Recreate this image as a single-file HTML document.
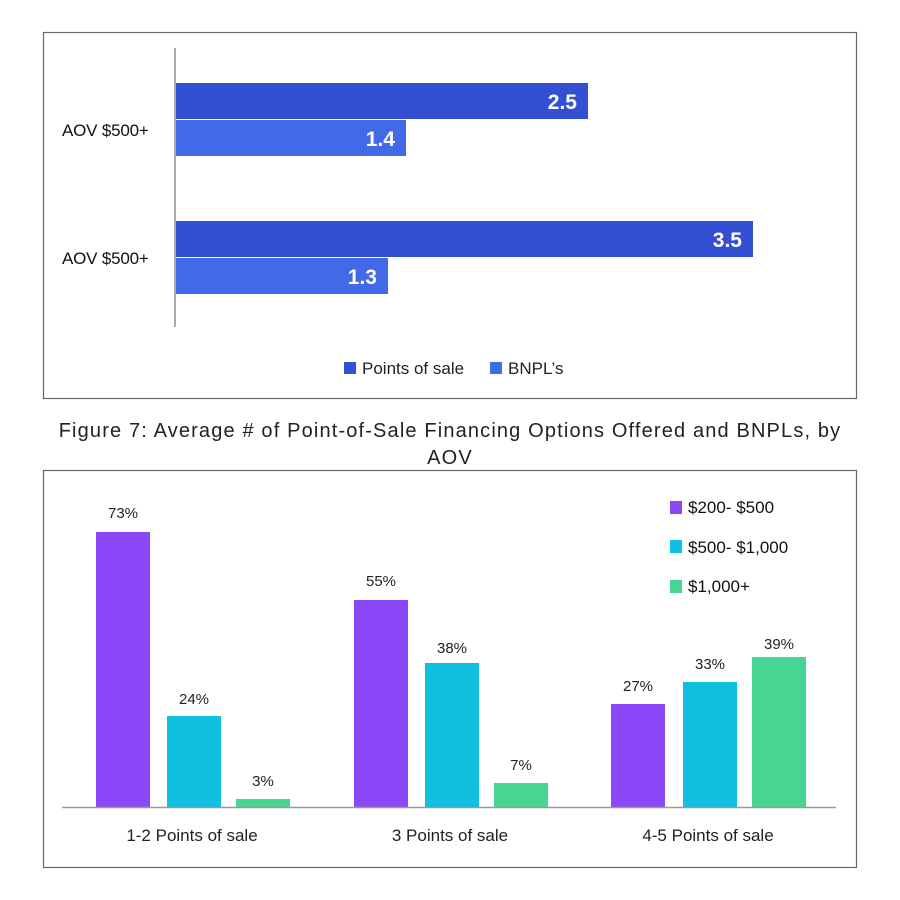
<!DOCTYPE html>
<html><head><style>body{margin:0;background:#fff}svg{display:block}text{font-family:"Liberation Sans",sans-serif}</style></head><body>
<svg width="900" height="900" viewBox="0 0 900 900">
<rect width="900" height="900" fill="#fff"/>
<rect x="43.5" y="32.5" width="813" height="366" fill="none" stroke="#666" stroke-width="1.2"/>
<line x1="175" y1="48" x2="175" y2="327" stroke="#aaa" stroke-width="2"/>
<rect x="176" y="83" width="412" height="36" fill="#3350d4"/>
<rect x="176" y="120" width="230" height="36" fill="#426ae8"/>
<rect x="176" y="221" width="577" height="36" fill="#3350d4"/>
<rect x="176" y="258" width="212" height="36" fill="#426ae8"/>
<g fill="#fff" font-weight="bold" font-size="21" text-anchor="end">
<text x="577" y="109">2.5</text><text x="395" y="146">1.4</text>
<text x="742" y="247">3.5</text><text x="377" y="284">1.3</text></g>
<g font-size="17" fill="#111" letter-spacing="-0.2"><text x="62" y="136">AOV $500+</text><text x="62" y="264">AOV $500+</text></g>
<rect x="344" y="362" width="12" height="12" fill="#3350d4"/><text x="362" y="374" font-size="17" fill="#222">Points of sale</text>
<rect x="490" y="362" width="12" height="12" fill="#426ae8"/><text x="508" y="374" font-size="17" fill="#222">BNPL’s</text>
<g font-size="20" fill="#222" text-anchor="middle" letter-spacing="1.15"><text x="450" y="437">Figure 7: Average # of Point-of-Sale Financing Options Offered  and  BNPLs, by</text><text x="450" y="464">AOV</text></g>
<rect x="43.5" y="470.5" width="813" height="397" fill="none" stroke="#666" stroke-width="1.2"/>
<g fill="#8a48f8"><rect x="96" y="532" width="54" height="275"/><rect x="354" y="600" width="54" height="207"/><rect x="611" y="704" width="54" height="103"/></g>
<g fill="#0fc0e0"><rect x="167" y="716" width="54" height="91"/><rect x="425" y="663" width="54" height="144"/><rect x="683" y="682" width="54" height="125"/></g>
<g fill="#48d493"><rect x="236" y="799" width="54" height="8"/><rect x="494" y="783" width="54" height="24"/><rect x="752" y="657" width="54" height="150"/></g>
<line x1="62" y1="807.5" x2="836" y2="807.5" stroke="#999" stroke-width="1.5"/>
<g font-size="15" fill="#222" text-anchor="middle">
<text x="123" y="518">73%</text><text x="194" y="704">24%</text><text x="263" y="786">3%</text>
<text x="381" y="586">55%</text><text x="452" y="653">38%</text><text x="521" y="770">7%</text>
<text x="638" y="691">27%</text><text x="710" y="669">33%</text><text x="779" y="649">39%</text></g>
<g font-size="17" fill="#222" text-anchor="middle"><text x="192" y="841">1-2 Points of sale</text><text x="450" y="841">3 Points of sale</text><text x="708" y="841">4-5 Points of sale</text></g>
<rect x="670" y="501" width="12" height="13" fill="#8a48f8"/><text x="688" y="513" font-size="17" fill="#111">$200- $500</text>
<rect x="670" y="540" width="12" height="13" fill="#0fc0e0"/><text x="688" y="553" font-size="17" fill="#111">$500- $1,000</text>
<rect x="670" y="580" width="12" height="13" fill="#48d493"/><text x="688" y="592" font-size="17" fill="#111">$1,000+</text>
</svg>
</body></html>
